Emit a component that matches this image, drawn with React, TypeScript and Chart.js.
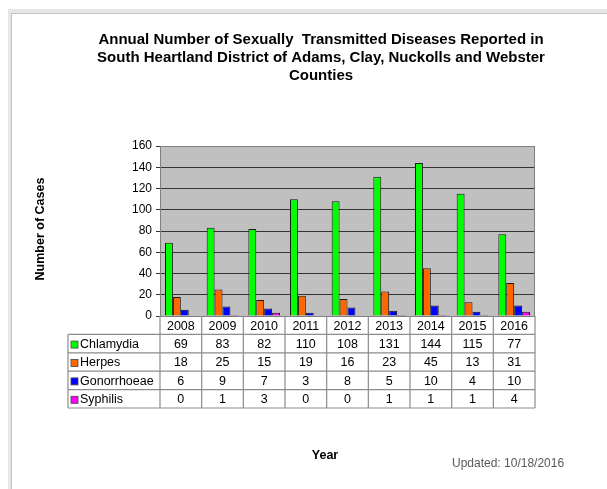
import React, { useEffect, useRef } from "react";
import { Chart, registerables } from "chart.js";

Chart.register(...registerables);

const years = ["2008", "2009", "2010", "2011", "2012", "2013", "2014", "2015", "2016"];
const chlamydia = [69, 83, 82, 110, 108, 131, 144, 115, 77];
const herpes = [18, 25, 15, 19, 16, 23, 45, 13, 31];
const gonorrhoeae = [6, 9, 7, 3, 8, 5, 10, 4, 10];
const syphilis = [0, 1, 3, 0, 0, 1, 1, 1, 4];
const seriesNames = ["Chlamydia", "Herpes", "Gonorrhoeae", "Syphilis"];
const seriesColors = ["#00FF00", "#FF6600", "#0000FF", "#FF00FF"];
const titleLines = [
  "Annual Number of Sexually  Transmitted Diseases Reported in",
  "South Heartland District of Adams, Clay, Nuckolls and Webster",
  "Counties",
];
const yAxisTitle = "Number of Cases";
const xAxisTitle = "Year";
const updatedNote = "Updated: 10/18/2016";
const yMax = 160;
const yStep = 20;

const FONT = "'Liberation Sans', Arial, sans-serif";

export default function App() {
  const ref = useRef<HTMLCanvasElement | null>(null);

  useEffect(() => {
    const canvas = ref.current;
    if (!canvas) return;
    const series = [chlamydia, herpes, gonorrhoeae, syphilis];

    const decor = {
      id: "decor",
      beforeDraw(chart: any) {
        const { ctx, chartArea: a } = chart;
        ctx.save();
        ctx.fillStyle = "#ffffff";
        ctx.fillRect(0, 0, chart.width, chart.height);
        // frame
        ctx.fillStyle = "#e6e6e6";
        ctx.fillRect(9, 9, chart.width - 9, 4);
        ctx.fillRect(8, 9, 4, chart.height - 9);
        ctx.strokeStyle = "#c4c4c4";
        ctx.lineWidth = 1;
        ctx.beginPath();
        ctx.moveTo(11, 13.5);
        ctx.lineTo(chart.width, 13.5);
        ctx.moveTo(11.5, 13);
        ctx.lineTo(11.5, chart.height);
        ctx.stroke();
        // plot background
        ctx.fillStyle = "#C0C0C0";
        ctx.fillRect(a.left, a.top, a.right - a.left, a.bottom - a.top);
        ctx.restore();
      },
      afterDraw(chart: any) {
        const { ctx, chartArea: a } = chart;
        ctx.save();
        // plot border
        ctx.strokeStyle = "#808080";
        ctx.lineWidth = 1;
        ctx.strokeRect(a.left + 0.5, a.top + 0.5, a.right - a.left - 1, a.bottom - a.top);

        // title
        ctx.fillStyle = "#000";
        ctx.textAlign = "center";
        ctx.textBaseline = "middle";
        ctx.font = `bold 15px ${FONT}`;
        titleLines.forEach((t, i) => ctx.fillText(t, 321, 40 + i * 18));

        // y axis title
        ctx.save();
        ctx.translate(41, 229);
        ctx.rotate(-Math.PI / 2);
        ctx.font = `bold 12.5px ${FONT}`;
        ctx.fillText(yAxisTitle, 0, 0);
        ctx.restore();

        // x axis title
        ctx.font = `bold 12.5px ${FONT}`;
        ctx.fillText(xAxisTitle, 325, 456);

        // updated note
        ctx.font = `12px ${FONT}`;
        ctx.fillStyle = "#595959";
        ctx.textAlign = "left";
        ctx.fillText(updatedNote, 452, 464);

        // data table
        const n = years.length;
        const colW = (a.right - a.left) / n;
        const rowH = 18.4;
        const top = a.bottom;
        const labelLeft = 68;
        const bottom = top + rowH * 5;
        ctx.strokeStyle = "#8c8c8c";
        ctx.lineWidth = 1.2;
        ctx.beginPath();
        for (let r = 1; r <= 5; r++) {
          const y = top + r * rowH;
          ctx.moveTo(labelLeft, y);
          ctx.lineTo(a.right, y);
        }
        for (let c = 0; c <= n; c++) {
          const x = a.left + c * colW;
          ctx.moveTo(x, top);
          ctx.lineTo(x, bottom);
        }
        ctx.moveTo(labelLeft, top + rowH);
        ctx.lineTo(labelLeft, bottom);
        ctx.stroke();

        ctx.fillStyle = "#000";
        ctx.font = `12.5px ${FONT}`;
        ctx.textAlign = "center";
        ctx.textBaseline = "middle";
        const xs = chart.scales.x;
        years.forEach((yr, i) => {
          const cx = xs.getPixelForValue(i);
          ctx.fillText(yr, cx, top + rowH / 2 + 1);
        });
        series.forEach((vals, s) => {
          const cy = top + rowH * (s + 1) + rowH / 2 + 1;
          ctx.fillStyle = seriesColors[s];
          ctx.fillRect(71, cy - 3.5, 7, 7);
          ctx.strokeStyle = "#444";
          ctx.lineWidth = 0.8;
          ctx.strokeRect(71, cy - 3.5, 7, 7);
          ctx.fillStyle = "#000";
          ctx.textAlign = "left";
          ctx.fillText(seriesNames[s], 80, cy);
          ctx.textAlign = "center";
          vals.forEach((v, i) => {
            ctx.fillText(String(v), xs.getPixelForValue(i), cy);
          });
        });
        ctx.restore();
      },
    };

    const chart = new Chart(canvas, {
      type: "bar",
      data: {
        labels: years,
        datasets: series.map((vals, s) => ({
          label: seriesNames[s],
          data: vals,
          backgroundColor: seriesColors[s],
          borderColor: "#1a1a1a",
          borderWidth: 1,
          categoryPercentage: 0.76,
          barPercentage: 1,
        })),
      },
      options: {
        responsive: false,
        animation: false,
        devicePixelRatio: 1,
        layout: { padding: { top: 146, right: 72, bottom: 173, left: 0 } },
        plugins: {
          legend: { display: false },
          title: { display: false },
          tooltip: { enabled: false },
        },
        scales: {
          x: { display: false },
          y: {
            min: 0,
            max: yMax,
            ticks: {
              stepSize: yStep,
              color: "#000",
              font: { family: FONT, size: 12 },
              padding: 4,
            },
            grid: { color: "#333333", lineWidth: 1, tickLength: 4, tickColor: "#333" },
            border: { display: true, color: "#808080" },
            afterFit: (scale: any) => {
              scale.width = 160;
            },
          },
        },
      },
      plugins: [decor],
    });
    return () => chart.destroy();
  }, []);

  return (
    <div style={{ position: "absolute", left: 0, top: 0, width: 607, height: 489, background: "#fff" }}>
      <canvas ref={ref} width={607} height={489} style={{ width: 607, height: 489, display: "block" }} />
    </div>
  );
}
